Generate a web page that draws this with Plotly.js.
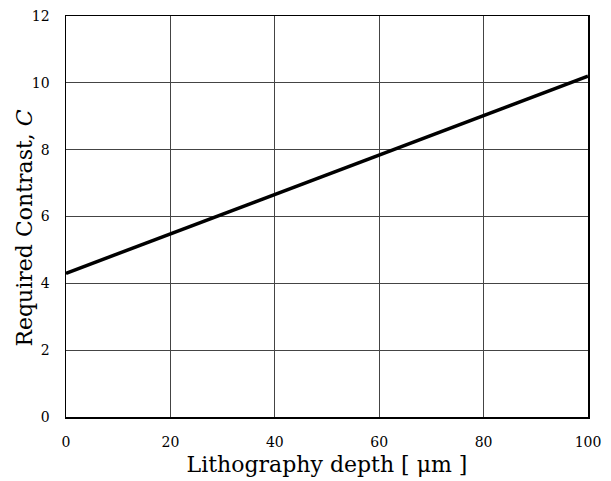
<!DOCTYPE html>
<html>
<head>
<meta charset="utf-8">
<script src="https://cdn.plot.ly/plotly-3.0.1.min.js"></script>
<style>html,body{margin:0;padding:0;background:#fff;}#chart{width:611px;height:481px;}</style>
</head>
<body>
<div id="chart"></div>
<script>
var depth = [0, 20, 40, 60, 80, 100];
var contrast = [4.3, 5.48, 6.66, 7.84, 9.02, 10.2];
var xTicks = [0, 20, 40, 60, 80, 100];
var yTicks = [0, 2, 4, 6, 8, 10, 12];

var serif = "DejaVu Serif, Liberation Serif, serif";
var trace = {
  x: depth, y: contrast, mode: 'lines', type: 'scatter',
  line: {color: '#000', width: 3.5}, hoverinfo: 'skip'
};
var layout = {
  width: 611, height: 481,
  margin: {l: 66, r: 23, t: 16, b: 64},
  paper_bgcolor: '#fff', plot_bgcolor: '#fff',
  showlegend: false,
  font: {family: serif, color: '#000', size: 14},
  xaxis: {
    range: [0, 100], tickvals: xTicks, ticktext: xTicks.map(String),
    showgrid: true, gridcolor: '#444', gridwidth: 1,
    showline: true, linecolor: '#000', linewidth: 1.5, mirror: true,
    zeroline: false, ticks: '', ticklabelstandoff: 12,
    tickfont: {family: serif, size: 14, color: '#000'},
    title: {text: 'Lithography depth [ \u03bcm ]', font: {family: serif, size: 22, color: '#000'}, standoff: 7}
  },
  yaxis: {
    range: [0, 12], tickvals: yTicks, ticktext: yTicks.map(String),
    showgrid: true, gridcolor: '#444', gridwidth: 1,
    showline: true, linecolor: '#000', linewidth: 1.5, mirror: true,
    zeroline: false, ticks: '', ticklabelstandoff: 12,
    tickfont: {family: serif, size: 14, color: '#000'}
  },
  annotations: [{
    text: 'Required Contrast, <i>C</i>', textangle: -90, showarrow: false,
    xref: 'paper', yref: 'paper', x: -0.0785, y: 0.47,
    xanchor: 'center', yanchor: 'middle',
    font: {family: serif, size: 22, color: '#000'}
  }]
};
Plotly.newPlot('chart', [trace], layout, {displayModeBar: false, staticPlot: true});
</script>
</body>
</html>
